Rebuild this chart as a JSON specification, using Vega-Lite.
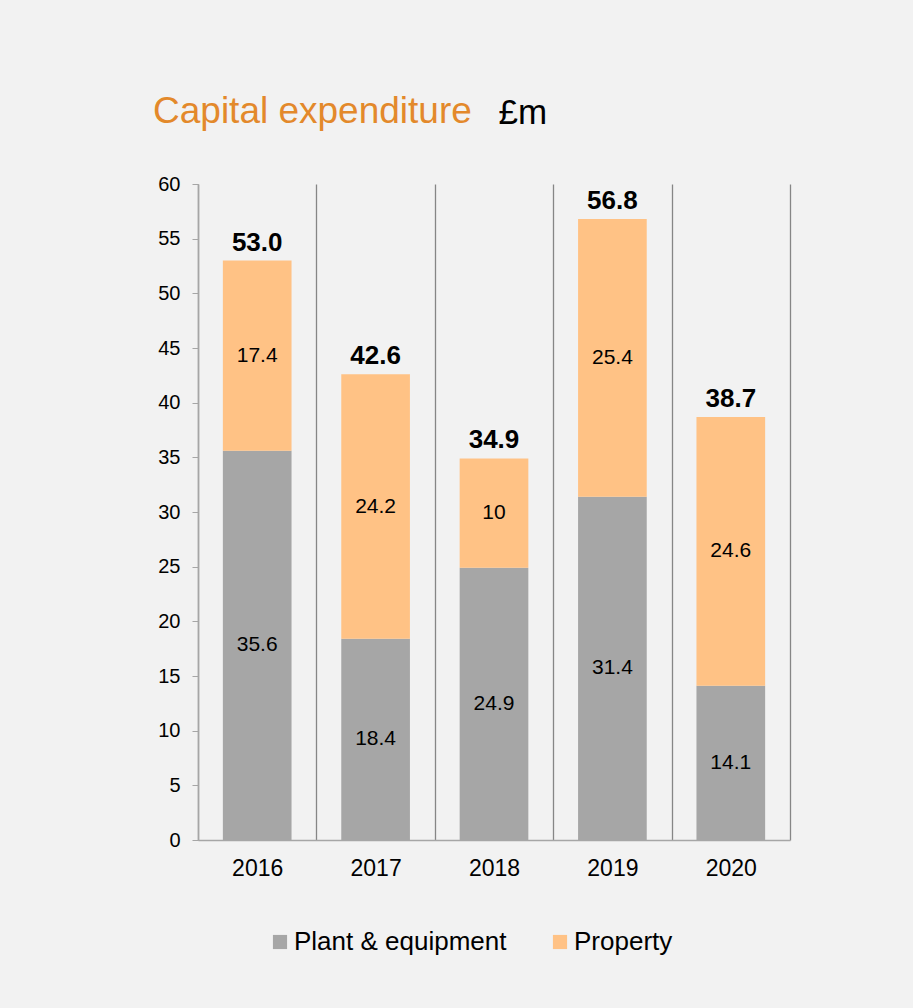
{
  "$schema": "https://vega.github.io/schema/vega-lite/v6.json",
  "width": 592,
  "height": 656,
  "autosize": {"type": "none"},
  "padding": {"left": 198, "top": 184, "right": 123, "bottom": 168},
  "background": "#f2f2f2",
  "config": {
    "font": "Liberation Sans",
    "view": {"stroke": null},
    "axis": {"labelFont": "Liberation Sans", "titleFont": "Liberation Sans"}
  },
  "title": {
    "text": "Capital expenditure",
    "anchor": "start",
    "frame": "group",
    "orient": "top",
    "dx": -45,
    "dy": 117,
    "offset": 52,
    "baseline": "alphabetic",
    "fontSize": 37,
    "fontWeight": "normal",
    "color": "#e3892b",
    "font": "Liberation Sans"
  },
  "data": {
    "values": [
      {"year": "2016", "series": "Plant & equipment", "value": 35.6},
      {"year": "2016", "series": "Property", "value": 17.4},
      {"year": "2017", "series": "Plant & equipment", "value": 18.4},
      {"year": "2017", "series": "Property", "value": 24.2},
      {"year": "2018", "series": "Plant & equipment", "value": 24.9},
      {"year": "2018", "series": "Property", "value": 10},
      {"year": "2019", "series": "Plant & equipment", "value": 31.4},
      {"year": "2019", "series": "Property", "value": 25.4},
      {"year": "2020", "series": "Plant & equipment", "value": 14.1},
      {"year": "2020", "series": "Property", "value": 24.6}
    ]
  },
  "encoding": {
    "x": {
      "field": "year",
      "type": "nominal",
      "scale": {"paddingInner": 0, "paddingOuter": 0},
      "axis": {
        "title": null,
        "labelAngle": 0,
        "labelFontSize": 23,
        "labelColor": "#000000",
        "labelPadding": 17,
        "ticks": false,
        "tickBand": "extent",
        "grid": true,
        "gridColor": "#868686",
        "gridWidth": 1.3,
        "domainColor": "#a6a6a6",
        "domainWidth": 1.5
      }
    }
  },
  "layer": [
    {
      "mark": {"type": "bar", "width": {"band": 0.58}},
      "encoding": {
        "y": {
          "field": "value",
          "type": "quantitative",
          "stack": "zero",
          "scale": {"domain": [0, 60], "nice": false},
          "axis": {
            "values": [0, 5, 10, 15, 20, 25, 30, 35, 40, 45, 50, 55, 60],
            "grid": false,
            "title": "£m",
            "titleAngle": 0,
            "titleX": 300,
            "titleY": -61,
            "titleAlign": "left",
            "titleBaseline": "alphabetic",
            "titleFontSize": 35,
            "titleFontWeight": "normal",
            "titleColor": "#000000",
            "labelFontSize": 20,
            "labelColor": "#000000",
            "labelPadding": 12,
            "tickSize": 6,
            "tickColor": "#a6a6a6",
            "domainColor": "#a6a6a6",
            "domainWidth": 1.5
          }
        },
        "color": {
          "field": "series",
          "type": "nominal",
          "scale": {"domain": ["Plant & equipment", "Property"], "range": ["#a6a6a6", "#ffc285"]},
          "legend": {
            "title": null,
            "orient": "none",
            "legendX": 69,
            "legendY": 745,
            "direction": "horizontal",
            "symbolType": "square",
            "symbolSize": 200,
            "symbolStrokeWidth": 0,
            "labelFontSize": 26,
            "labelColor": "#000000",
            "labelOffset": 1,
            "columnPadding": 40,
            "labelLimit": 400
          }
        },
        "order": {"field": "series", "sort": "ascending"}
      }
    },
    {
      "transform": [
        {"stack": "value", "groupby": ["year"], "sort": [{"field": "series", "order": "ascending"}], "as": ["v0", "v1"]},
        {"calculate": "(datum.v0 + datum.v1) / 2", "as": "mid"}
      ],
      "mark": {"type": "text", "fontSize": 21, "color": "#000000", "baseline": "middle"},
      "encoding": {
        "y": {"field": "mid", "type": "quantitative"},
        "text": {"field": "value", "type": "quantitative"}
      }
    },
    {
      "transform": [
        {"aggregate": [{"op": "sum", "field": "value", "as": "total"}], "groupby": ["year"]}
      ],
      "mark": {"type": "text", "fontSize": 26, "fontWeight": "bold", "color": "#000000", "baseline": "alphabetic", "dy": -10},
      "encoding": {
        "y": {"field": "total", "type": "quantitative"},
        "text": {"field": "total", "type": "quantitative", "format": ".1f"}
      }
    }
  ]
}
